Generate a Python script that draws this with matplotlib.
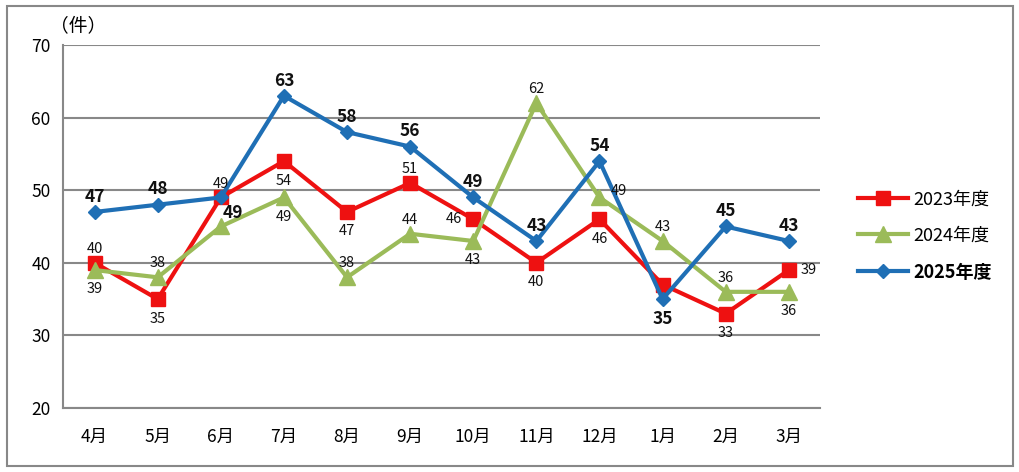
import numpy as np
import matplotlib.pyplot as plt
from matplotlib.patches import Rectangle

plt.rcParams['font.family'] = ['Noto Sans CJK JP', 'DejaVu Sans']

months = ['4月', '5月', '6月', '7月', '8月', '9月', '10月', '11月', '12月', '1月', '2月', '3月']
fy2023 = [40, 35, 49, 54, 47, 51, 46, 40, 46, 37, 33, 39]
fy2024 = [39, 38, 45, 49, 38, 44, 43, 62, 49, 43, 36, 36]
fy2025 = [47, 48, 49, 63, 58, 56, 49, 43, 54, 35, 45, 43]

# label offsets (points); None = no label
off2023 = [(0, 10), (0, -14), (0, 10), (0, -14), (0, -14), (0, 10), (-14, 0), (0, -14), (0, -14), None, (0, -14), (14, 0)]
off2024 = [(0, -14), (0, 10), None, (0, -14), (0, 10), (0, 10), (0, -14), (0, 10), (14, 5), (0, 10), (0, 10), (0, -14)]
off2025 = [(0, 11), (0, 11), (9, -11), (0, 11), (0, 11), (0, 11), (0, 11), (0, 11), (0, 11), (0, -14), (0, 11), (0, 11)]

fig = plt.figure(figsize=(10.2, 4.72), dpi=100)
ax = fig.add_axes([0.0618, 0.1356, 0.7425, 0.7691])
fig.patches.append(Rectangle((0.007, 0.013), 0.986, 0.974, transform=fig.transFigure,
                             fill=False, edgecolor='#888888', linewidth=1.5))

x = np.arange(len(months))
series = [
    (fy2023, off2023, '#EE1111', 's', 10, 3.0, '2023年度', 'normal'),
    (fy2024, off2024, '#9BBB59', '^', 11, 3.0, '2024年度', 'normal'),
    (fy2025, off2025, '#1F6FB5', 'D', 7, 3.0, '2025年度', 'bold'),
]
for vals, offs, c, m, ms, lw, lab, fw in series:
    ax.plot(x, vals, color=c, marker=m, markersize=ms, linewidth=lw, label=lab, zorder=3)
    for xi, v, o in zip(x, vals, offs):
        if o is None:
            continue
        ax.annotate(str(v), (xi, v), xytext=o, textcoords='offset points',
                    ha='center', va='center', fontweight=fw,
                    fontsize=12.5 if fw == 'bold' else 10.5, color='#111111', zorder=4)

ax.set_xlim(-0.5, len(months) - 0.5)
ax.set_ylim(20, 70)
ax.set_yticks([20, 30, 40, 50, 60, 70])
ax.set_xticks(x)
ax.set_xticklabels(months)
ax.tick_params(length=0, labelsize=12.5)
ax.tick_params(axis='x', pad=14)
ax.tick_params(axis='y', pad=9)
ax.grid(axis='y', color='#888888', linewidth=1.5)
ax.set_axisbelow(True)
for s in ['top', 'right']:
    ax.spines[s].set_visible(False)
for s in ['left', 'bottom']:
    ax.spines[s].set_color('#888888')
    ax.spines[s].set_linewidth(1.5)

ax.text(0.02, 1.025, '（件）', transform=ax.transAxes, fontsize=13.5, ha='center', va='bottom')

leg = fig.legend(loc='center left', bbox_to_anchor=(0.825, 0.5), frameon=False,
                 fontsize=13, handlelength=2.8, labelspacing=1.0, handletextpad=0.3)
for t in leg.get_texts():
    if t.get_text() == '2025年度':
        t.set_fontweight('bold')

fig.savefig('out.png', dpi=100)
